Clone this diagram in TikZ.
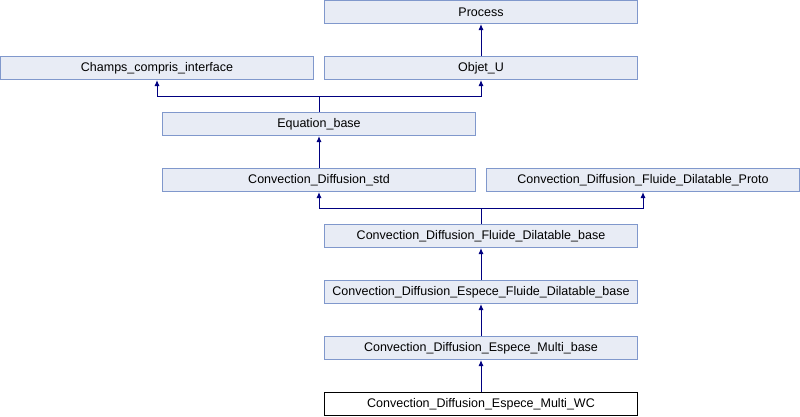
\documentclass[tikz,border=0pt]{standalone}
\usepackage{fontspec}
\setmainfont{Liberation Sans}
\usetikzlibrary{arrows.meta}
\definecolor{boxfill}{RGB}{232,236,245}
\definecolor{boxdraw}{RGB}{128,152,204}
\definecolor{arrowc}{RGB}{0,0,128}
\begin{document}
\begin{tikzpicture}[x=1pt,y=-1pt,
  cls/.style={draw=boxdraw,fill=boxfill,line width=1pt,minimum width=313pt,minimum height=23pt,inner sep=0pt,font=\fontsize{12.5}{14}\selectfont},
  cur/.style={cls,draw=black,fill=white},
  inh/.style={draw=arrowc,line width=1pt,-{Latex[length=6pt,width=5pt]}}]
\useasboundingbox (0,0) rectangle (800,416);
\node[cls] (proc) at (481,12) {Process};
\node[cls] (champs) at (157,68) {Champs\_compris\_interface};
\node[cls] (objet) at (481,68) {Objet\_U};
\node[cls] (eqb) at (319,124) {Equation\_base};
\node[cls] (cds) at (319,180) {Convection\_Diffusion\_std};
\node[cls] (proto) at (643,180) {Convection\_Diffusion\_Fluide\_Dilatable\_Proto};
\node[cls] (fdb) at (481,236) {Convection\_Diffusion\_Fluide\_Dilatable\_base};
\node[cls] (efdb) at (481,292) {Convection\_Diffusion\_Espece\_Fluide\_Dilatable\_base};
\node[cls] (emb) at (481,348) {Convection\_Diffusion\_Espece\_Multi\_base};
\node[cur] (wc) at (481,404) {Convection\_Diffusion\_Espece\_Multi\_WC};
\coordinate (j1) at (319,96.5);
\coordinate (j2) at (481,208.5);
\draw[inh] (objet.north) -- (proc.south);
\draw[inh] (eqb.north) -- (j1) -| (champs.south);
\draw[inh] (j1) -| (objet.south);
\draw[inh] (cds.north) -- (eqb.south);
\draw[inh] (fdb.north) -- (j2) -| (cds.south);
\draw[inh] (j2) -| (proto.south);
\draw[inh] (efdb.north) -- (fdb.south);
\draw[inh] (emb.north) -- (efdb.south);
\draw[inh] (wc.north) -- (emb.south);
\end{tikzpicture}
\end{document}
